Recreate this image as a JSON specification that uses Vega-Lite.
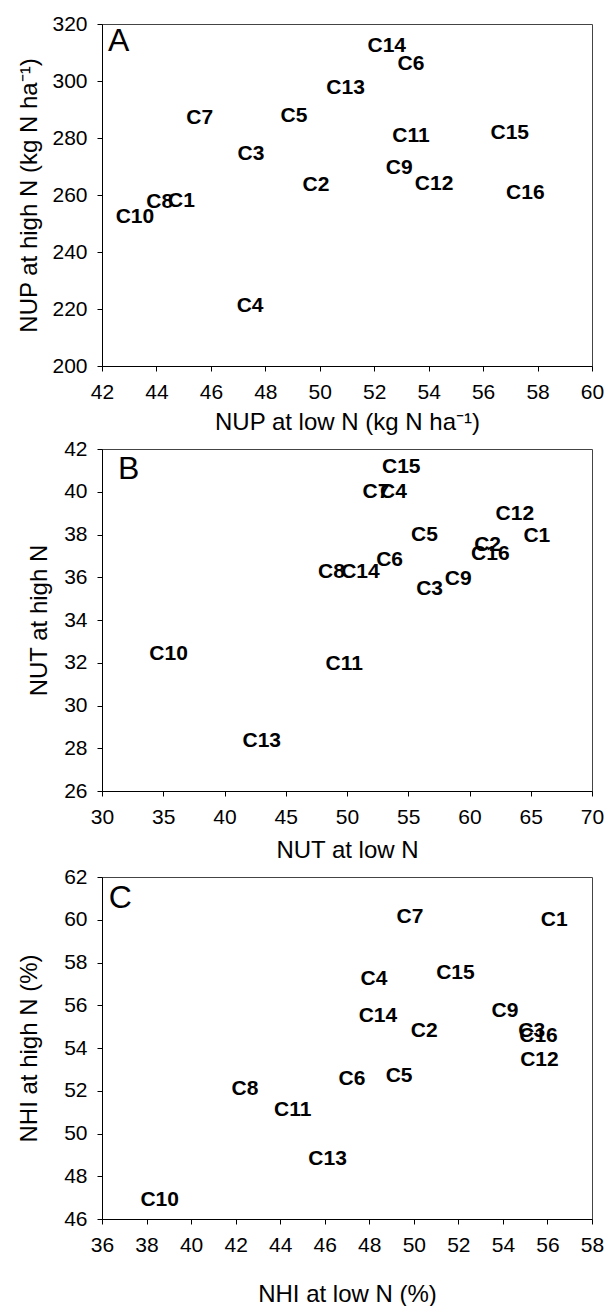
{
  "$schema": "https://vega.github.io/schema/vega-lite/v6.json",
  "padding": {"left": 17, "top": 12, "right": 5, "bottom": 0},
  "spacing": 2,
  "background": "white",
  "config": {
    "font": "Liberation Sans",
    "view": {"stroke": "#444", "strokeWidth": 1},
    "axis": {"grid": false, "domainColor": "#000", "tickColor": "#000", "tickSize": 5, "labelFont": "Liberation Sans", "labelFontSize": 21, "labelColor": "#000", "titleFont": "Liberation Sans", "titleFontSize": 24, "titleFontWeight": "normal", "titleColor": "#000", "labelPadding": 10, "labelOverlap": false, "labelFlush": false}
  },
  "datasets": {
    "A": [
      {"label": "C1", "x": 44.92, "y": 257.9},
      {"label": "C2", "x": 49.86, "y": 263.4},
      {"label": "C3", "x": 47.47, "y": 274.5},
      {"label": "C4", "x": 47.44, "y": 221.05},
      {"label": "C5", "x": 49.05, "y": 287.7},
      {"label": "C6", "x": 53.35, "y": 305.9},
      {"label": "C7", "x": 45.59, "y": 287.1},
      {"label": "C8", "x": 44.12, "y": 257.5},
      {"label": "C9", "x": 52.92, "y": 269.6},
      {"label": "C10", "x": 43.21, "y": 252.3},
      {"label": "C11", "x": 53.35, "y": 280.7},
      {"label": "C12", "x": 54.2, "y": 264.0},
      {"label": "C13", "x": 50.95, "y": 297.4},
      {"label": "C14", "x": 52.46, "y": 312.3},
      {"label": "C15", "x": 56.98, "y": 281.9},
      {"label": "C16", "x": 57.55, "y": 260.8}
    ],
    "B": [
      {"label": "C1", "x": 65.5, "y": 37.93},
      {"label": "C2", "x": 61.48, "y": 37.5},
      {"label": "C3", "x": 56.74, "y": 35.43},
      {"label": "C4", "x": 53.79, "y": 39.98},
      {"label": "C5", "x": 56.32, "y": 37.96},
      {"label": "C6", "x": 53.48, "y": 36.8},
      {"label": "C7", "x": 52.37, "y": 40.01},
      {"label": "C8", "x": 48.73, "y": 36.25},
      {"label": "C9", "x": 59.08, "y": 35.94},
      {"label": "C10", "x": 35.44, "y": 32.4},
      {"label": "C11", "x": 49.77, "y": 31.94},
      {"label": "C12", "x": 63.7, "y": 38.97},
      {"label": "C13", "x": 43.04, "y": 28.33},
      {"label": "C14", "x": 51.1, "y": 36.25},
      {"label": "C15", "x": 54.43, "y": 41.14},
      {"label": "C16", "x": 61.7, "y": 37.08}
    ],
    "C": [
      {"label": "C1", "x": 56.3, "y": 60.01},
      {"label": "C2", "x": 50.47, "y": 54.78},
      {"label": "C3", "x": 55.29, "y": 54.78},
      {"label": "C4", "x": 48.21, "y": 57.22},
      {"label": "C5", "x": 49.34, "y": 52.68},
      {"label": "C6", "x": 47.22, "y": 52.56},
      {"label": "C7", "x": 49.83, "y": 60.13},
      {"label": "C8", "x": 42.42, "y": 52.09},
      {"label": "C9", "x": 54.09, "y": 55.74},
      {"label": "C10", "x": 38.59, "y": 46.9},
      {"label": "C11", "x": 44.56, "y": 51.09},
      {"label": "C12", "x": 55.64, "y": 53.46},
      {"label": "C13", "x": 46.13, "y": 48.83},
      {"label": "C14", "x": 48.39, "y": 55.51},
      {"label": "C15", "x": 51.87, "y": 57.52},
      {"label": "C16", "x": 55.6, "y": 54.54}
    ]
  },
  "vconcat": [
    {
      "width": 490,
      "height": 342,
      "layer": [
        {
          "data": {"name": "A"},
          "mark": {"type": "text", "fontWeight": "bold", "fontSize": 21, "align": "center", "baseline": "middle", "color": "#000"},
          "encoding": {
            "x": {"field": "x", "type": "quantitative", "scale": {"domain": [42, 60], "nice": false, "zero": false}, "axis": {"values": [42, 44, 46, 48, 50, 52, 54, 56, 58, 60], "title": "NUP at low  N (kg N ha⁻¹)", "titlePadding": 8}},
            "y": {"field": "y", "type": "quantitative", "scale": {"domain": [200, 320], "nice": false, "zero": false}, "axis": {"values": [200, 220, 240, 260, 280, 300, 320], "title": "NUP at high N (kg N ha⁻¹)", "titlePadding": 10}},
            "text": {"field": "label"}
          }
        },
        {
          "data": {"values": [{"x": 42.22, "y": 314, "label": "A"}]},
          "mark": {"type": "text", "fontSize": 32, "align": "left", "baseline": "middle", "color": "#000"},
          "encoding": {
            "x": {"field": "x", "type": "quantitative"},
            "y": {"field": "y", "type": "quantitative"},
            "text": {"field": "label"}
          }
        }
      ]
    },
    {
      "width": 490,
      "height": 342,
      "layer": [
        {
          "data": {"name": "B"},
          "mark": {"type": "text", "fontWeight": "bold", "fontSize": 21, "align": "center", "baseline": "middle", "color": "#000"},
          "encoding": {
            "x": {"field": "x", "type": "quantitative", "scale": {"domain": [30, 70], "nice": false, "zero": false}, "axis": {"values": [30, 35, 40, 45, 50, 55, 60, 65, 70], "title": "NUT at low N", "titlePadding": 11}},
            "y": {"field": "y", "type": "quantitative", "scale": {"domain": [26, 42], "nice": false, "zero": false}, "axis": {"values": [26, 28, 30, 32, 34, 36, 38, 40, 42], "title": "NUT at high N", "titlePadding": 12}},
            "text": {"field": "label"}
          }
        },
        {
          "data": {"values": [{"x": 31.3, "y": 41.08, "label": "B"}]},
          "mark": {"type": "text", "fontSize": 32, "align": "left", "baseline": "middle", "color": "#000"},
          "encoding": {
            "x": {"field": "x", "type": "quantitative"},
            "y": {"field": "y", "type": "quantitative"},
            "text": {"field": "label"}
          }
        }
      ]
    },
    {
      "width": 490,
      "height": 342,
      "layer": [
        {
          "data": {"name": "C"},
          "mark": {"type": "text", "fontWeight": "bold", "fontSize": 21, "align": "center", "baseline": "middle", "color": "#000"},
          "encoding": {
            "x": {"field": "x", "type": "quantitative", "scale": {"domain": [36, 58], "nice": false, "zero": false}, "axis": {"values": [36, 38, 40, 42, 44, 46, 48, 50, 52, 54, 56, 58], "title": "NHI at low N (%)", "titlePadding": 27}},
            "y": {"field": "y", "type": "quantitative", "scale": {"domain": [46, 62], "nice": false, "zero": false}, "axis": {"values": [46, 48, 50, 52, 54, 56, 58, 60, 62], "title": "NHI at high N (%)", "titlePadding": 22}},
            "text": {"field": "label"}
          }
        },
        {
          "data": {"values": [{"x": 36.3, "y": 61.0, "label": "C"}]},
          "mark": {"type": "text", "fontSize": 32, "align": "left", "baseline": "middle", "color": "#000"},
          "encoding": {
            "x": {"field": "x", "type": "quantitative"},
            "y": {"field": "y", "type": "quantitative"},
            "text": {"field": "label"}
          }
        }
      ]
    }
  ]
}
